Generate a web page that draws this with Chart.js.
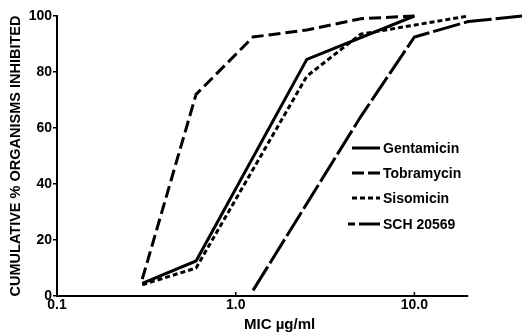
<!DOCTYPE html>
<html>
<head>
<meta charset="utf-8">
<script src="https://cdn.jsdelivr.net/npm/chart.js@4"></script>
<style>
  html, body { margin: 0; padding: 0; background: #fff; }
  #wrap { width: 524px; height: 336px; position: relative; }
</style>
</head>
<body>
<div id="wrap"><canvas id="c" width="524" height="336"></canvas></div>
<script>
// ---- data ----
const gentMic = [0.3, 0.6, 2.5, 10];
const gentPct = [4.5, 12.5, 84.5, 100];
const tobraMic = [0.3, 0.6, 1.25, 2.5, 5, 10];
const tobraPct = [6, 72, 92.5, 95, 99, 100];
const sisoMic = [0.3, 0.6, 2.5, 5, 20];
const sisoPct = [4, 10, 78.5, 93.5, 100];
const schMic = [1.25, 2.5, 5, 10, 20, 40];
const schPct = [2, 33, 64, 92.5, 98, 100];
const seriesNames = ['Gentamicin', 'Tobramycin', 'Sisomicin', 'SCH 20569'];
const xTickValues = [0.1, 1, 10];
const xTickLabels = ['0.1', '1.0', '10.0'];
const xAxisEnd = 20;
const yTickValues = [0, 20, 40, 60, 80, 100];
const yTitle = 'CUMULATIVE % ORGANISMS INHIBITED';
const xTitle = 'MIC \u00b5g/ml';

const FONT = '"Liberation Sans", Arial, sans-serif';
const toPts = (xs, ys) => xs.map((x, i) => ({ x: x, y: ys[i] }));
const dashes = [[], [12, 5], [5, 3], [28, 4]];

const datasets = [
  [gentMic, gentPct], [tobraMic, tobraPct], [sisoMic, sisoPct], [schMic, schPct]
].map((s, i) => ({
  label: seriesNames[i],
  data: toPts(s[0], s[1]),
  borderColor: '#000',
  borderWidth: 3,
  borderDash: dashes[i],
  pointRadius: 0,
  fill: false,
  tension: 0,
  clip: false
}));

const overlay = {
  id: 'overlay',
  beforeDatasetsDraw(chart) {
    const ctx = chart.ctx;
    const xs = chart.scales.x;
    const area = chart.chartArea;
    ctx.save();
    ctx.strokeStyle = '#000';
    ctx.lineWidth = 2;
    ctx.beginPath();
    ctx.moveTo(area.left - 1, area.bottom);
    ctx.lineTo(xs.getPixelForValue(xAxisEnd), area.bottom);
    ctx.stroke();
    ctx.lineWidth = 1.5;
    xTickValues.forEach(v => {
      const px = xs.getPixelForValue(v);
      ctx.beginPath();
      ctx.moveTo(px, area.bottom);
      ctx.lineTo(px, area.bottom - 4);
      ctx.stroke();
    });
    ctx.restore();
  },
  afterDraw(chart) {
    const ctx = chart.ctx;
    const xs = chart.scales.x;
    const area = chart.chartArea;
    ctx.save();
    ctx.fillStyle = '#000';
    ctx.strokeStyle = '#000';
    ctx.font = 'bold 15px ' + FONT;
    ctx.textAlign = 'center';
    ctx.textBaseline = 'middle';
    ctx.fillText(xTitle, (area.left + xs.getPixelForValue(xAxisEnd)) / 2 + 17, 325);
    // legend
    const lx0 = 352, lx1 = 380, ly = [148, 173, 198, 224];
    chart.data.datasets.forEach((ds, i) => {
      ctx.beginPath();
      ctx.lineWidth = 3;
      if (i === 3) {
        ctx.moveTo(lx0 - 4, ly[i]);
        ctx.lineTo(lx0 + 3, ly[i]);
        ctx.stroke();
        ctx.beginPath();
        ctx.moveTo(lx0 + 7, ly[i]);
        ctx.lineTo(lx1, ly[i]);
      } else {
        ctx.setLineDash(i === 1 ? [12, 4] : ds.borderDash);
        ctx.moveTo(lx0, ly[i]);
        ctx.lineTo(lx1, ly[i]);
      }
      ctx.stroke();
      ctx.setLineDash([]);
      ctx.textAlign = 'left';
      ctx.font = 'bold 14px ' + FONT;
      ctx.fillText(ds.label, lx1 + 3, ly[i] + 1);
    });
    ctx.restore();
  }
};

new Chart(document.getElementById('c'), {
  type: 'line',
  data: { datasets: datasets },
  plugins: [overlay],
  options: {
    responsive: false,
    animation: false,
    layout: { padding: { left: 0, right: 2, top: 16, bottom: 0 } },
    plugins: { legend: { display: false }, tooltip: { enabled: false } },
    scales: {
      x: {
        type: 'logarithmic',
        min: 0.1,
        max: 40,
        afterBuildTicks: (s) => { s.ticks = xTickValues.map(v => ({ value: v })); },
        afterFit: (s) => { s.height = 40; },
        ticks: {
          autoSkip: false,
          maxRotation: 0,
          padding: 1,
          color: '#000',
          font: { family: FONT, size: 14, weight: 'bold' },
          callback: (v) => { const i = xTickValues.indexOf(v); return i >= 0 ? xTickLabels[i] : ''; }
        },
        grid: { display: false, drawOnChartArea: false, drawTicks: false },
        border: { display: false }
      },
      y: {
        type: 'linear',
        min: 0,
        max: 100,
        afterBuildTicks: (s) => { s.ticks = yTickValues.map(v => ({ value: v })); },
        afterFit: (s) => { s.width = 57; },
        ticks: {
          padding: 1,
          color: '#000',
          font: { family: FONT, size: 14, weight: 'bold' }
        },
        grid: { display: true, drawOnChartArea: false, drawTicks: true, tickLength: 4, color: '#000', lineWidth: 1.5 },
        border: { display: true, color: '#000', width: 2 },
        title: {
          display: true,
          text: yTitle,
          color: '#000',
          font: { family: FONT, size: 14.5, weight: 'bold' },
          padding: { top: 7, bottom: 0 }
        }
      }
    }
  }
});
</script>
</body>
</html>
